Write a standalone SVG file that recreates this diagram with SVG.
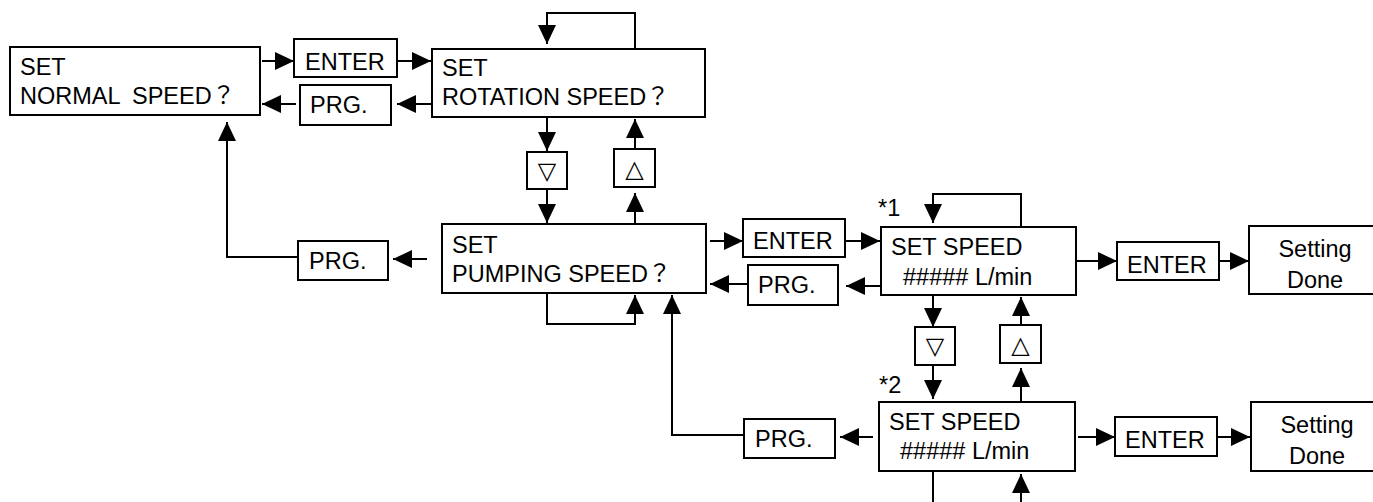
<svg xmlns="http://www.w3.org/2000/svg" width="1373" height="502" viewBox="0 0 1373 502">
<style>
.box{fill:#fff;stroke:#000;stroke-width:2}
.t{font-family:"Liberation Sans","Noto Sans CJK JP",sans-serif;font-size:23.5px;fill:#000}
.c{text-anchor:middle}
.sym{font-family:"DejaVu Sans",sans-serif;font-size:24px;fill:#000;text-anchor:middle}
.ln{fill:none;stroke:#000;stroke-width:2}
.ar{fill:none;stroke:#000;stroke-width:2;marker-end:url(#ah)}
</style>
<defs>
<marker id="ah" markerUnits="userSpaceOnUse" markerWidth="22" markerHeight="20" refX="19" refY="9" orient="auto">
<path d="M0,0 L19,9 L0,18 Z" fill="#000"/>
</marker>
</defs>
<rect width="1373" height="502" fill="#fff"/>
<g id="connectors">
<path class="ar" d="M262,61 H294"/>
<path class="ar" d="M397,61 H431"/>
<path class="ar" d="M432,104 H397"/>
<path class="ar" d="M296,104 H262"/>
<path class="ar" d="M635,49 V13 H547 V44"/>
<path class="ar" d="M547,117 V151"/>
<path class="ar" d="M547,189 V223"/>
<path class="ar" d="M635,224 V193"/>
<path class="ar" d="M635,149 V119"/>
<path class="ar" d="M427,259 H393"/>
<path class="ar" d="M298,257 H227 V122"/>
<path class="ar" d="M547,293 V324 H635 V295"/>
<path class="ar" d="M744,435 H672 V295"/>
<path class="ar" d="M710,241 H743"/>
<path class="ar" d="M845,241 H880"/>
<path class="ar" d="M881,286 H846"/>
<path class="ar" d="M748,284 H710"/>
<path class="ar" d="M1021,227 V194 H933 V223"/>
<path class="ar" d="M933,295 V327"/>
<path class="ar" d="M933,365 V399"/>
<path class="ar" d="M1021,402 V368"/>
<path class="ar" d="M1021,325 V297"/>
<path class="ar" d="M873,437 H840"/>
<path class="ar" d="M1078,437 H1115"/>
<path class="ar" d="M1217,437 H1250"/>
<path class="ar" d="M1077,261 H1117"/>
<path class="ar" d="M1219,261 H1249"/>
<path class="ln" d="M933,471 V502"/>
<path class="ar" d="M1021,502 V474"/>
</g>
<g id="normal">
<rect class="box" x="10" y="47" width="250" height="68"/>
<text class="t" x="20" y="75">SET</text>
<text class="t" y="104"><tspan x="20">NORMAL</tspan><tspan x="132">SPEED？</tspan></text>
</g>
<g id="enter1">
<rect class="box" x="294" y="39" width="103" height="38"/>
<text class="t" x="305" y="70">ENTER</text>
</g>
<g id="prg1">
<rect class="box" x="300" y="85" width="91" height="40"/>
<text class="t" x="310" y="113">PRG.</text>
</g>
<g id="rotation">
<rect class="box" x="432" y="49" width="273" height="68"/>
<text class="t" x="442" y="76">SET</text>
<text class="t" x="442" y="105">ROTATION SPEED？</text>
</g>
<g id="down1">
<rect class="box" x="527" y="152" width="40" height="37"/>
<text class="sym" x="547" y="179">▽</text>
</g>
<g id="up1">
<rect class="box" x="614" y="149" width="41" height="38"/>
<text class="sym" x="634.5" y="177">△</text>
</g>
<g id="pumping">
<rect class="box" x="442" y="224" width="264" height="69"/>
<text class="t" x="452" y="253">SET</text>
<text class="t" x="452" y="282">PUMPING SPEED？</text>
</g>
<g id="prg2">
<rect class="box" x="298" y="241" width="90" height="39"/>
<text class="t" x="309" y="269">PRG.</text>
</g>
<g id="enter2">
<rect class="box" x="743" y="219" width="102" height="38"/>
<text class="t" x="753" y="249">ENTER</text>
</g>
<g id="prg3">
<rect class="box" x="748" y="265" width="90" height="40"/>
<text class="t" x="758" y="293">PRG.</text>
</g>
<g id="speed1">
<text class="t" x="878" y="216">*1</text>
<rect class="box" x="881" y="227" width="195" height="68"/>
<text class="t" x="891" y="255">SET SPEED</text>
<text class="t" x="903" y="285">##### L/min</text>
</g>
<g id="enter3">
<rect class="box" x="1117" y="242" width="102" height="38"/>
<text class="t" x="1127" y="273">ENTER</text>
</g>
<g id="done1">
<rect class="box" x="1249" y="226" width="130" height="68"/>
<text class="t c" x="1315" y="257">Setting</text>
<text class="t c" x="1315" y="288">Done</text>
</g>
<g id="down2">
<rect class="box" x="915" y="327" width="40" height="38"/>
<text class="sym" x="935" y="354">▽</text>
</g>
<g id="up2">
<rect class="box" x="1000" y="325" width="41" height="38"/>
<text class="sym" x="1020.5" y="353">△</text>
</g>
<g id="speed2">
<text class="t" x="879" y="393">*2</text>
<rect class="box" x="879" y="402" width="196" height="69"/>
<text class="t" x="889" y="430">SET SPEED</text>
<text class="t" x="900" y="459">##### L/min</text>
</g>
<g id="prg4">
<rect class="box" x="744" y="419" width="91" height="39"/>
<text class="t" x="755" y="447">PRG.</text>
</g>
<g id="enter4">
<rect class="box" x="1115" y="417" width="102" height="39"/>
<text class="t" x="1125" y="448">ENTER</text>
</g>
<g id="done2">
<rect class="box" x="1251" y="402" width="130" height="69"/>
<text class="t c" x="1317" y="433">Setting</text>
<text class="t c" x="1317" y="464">Done</text>
</g>
</svg>
